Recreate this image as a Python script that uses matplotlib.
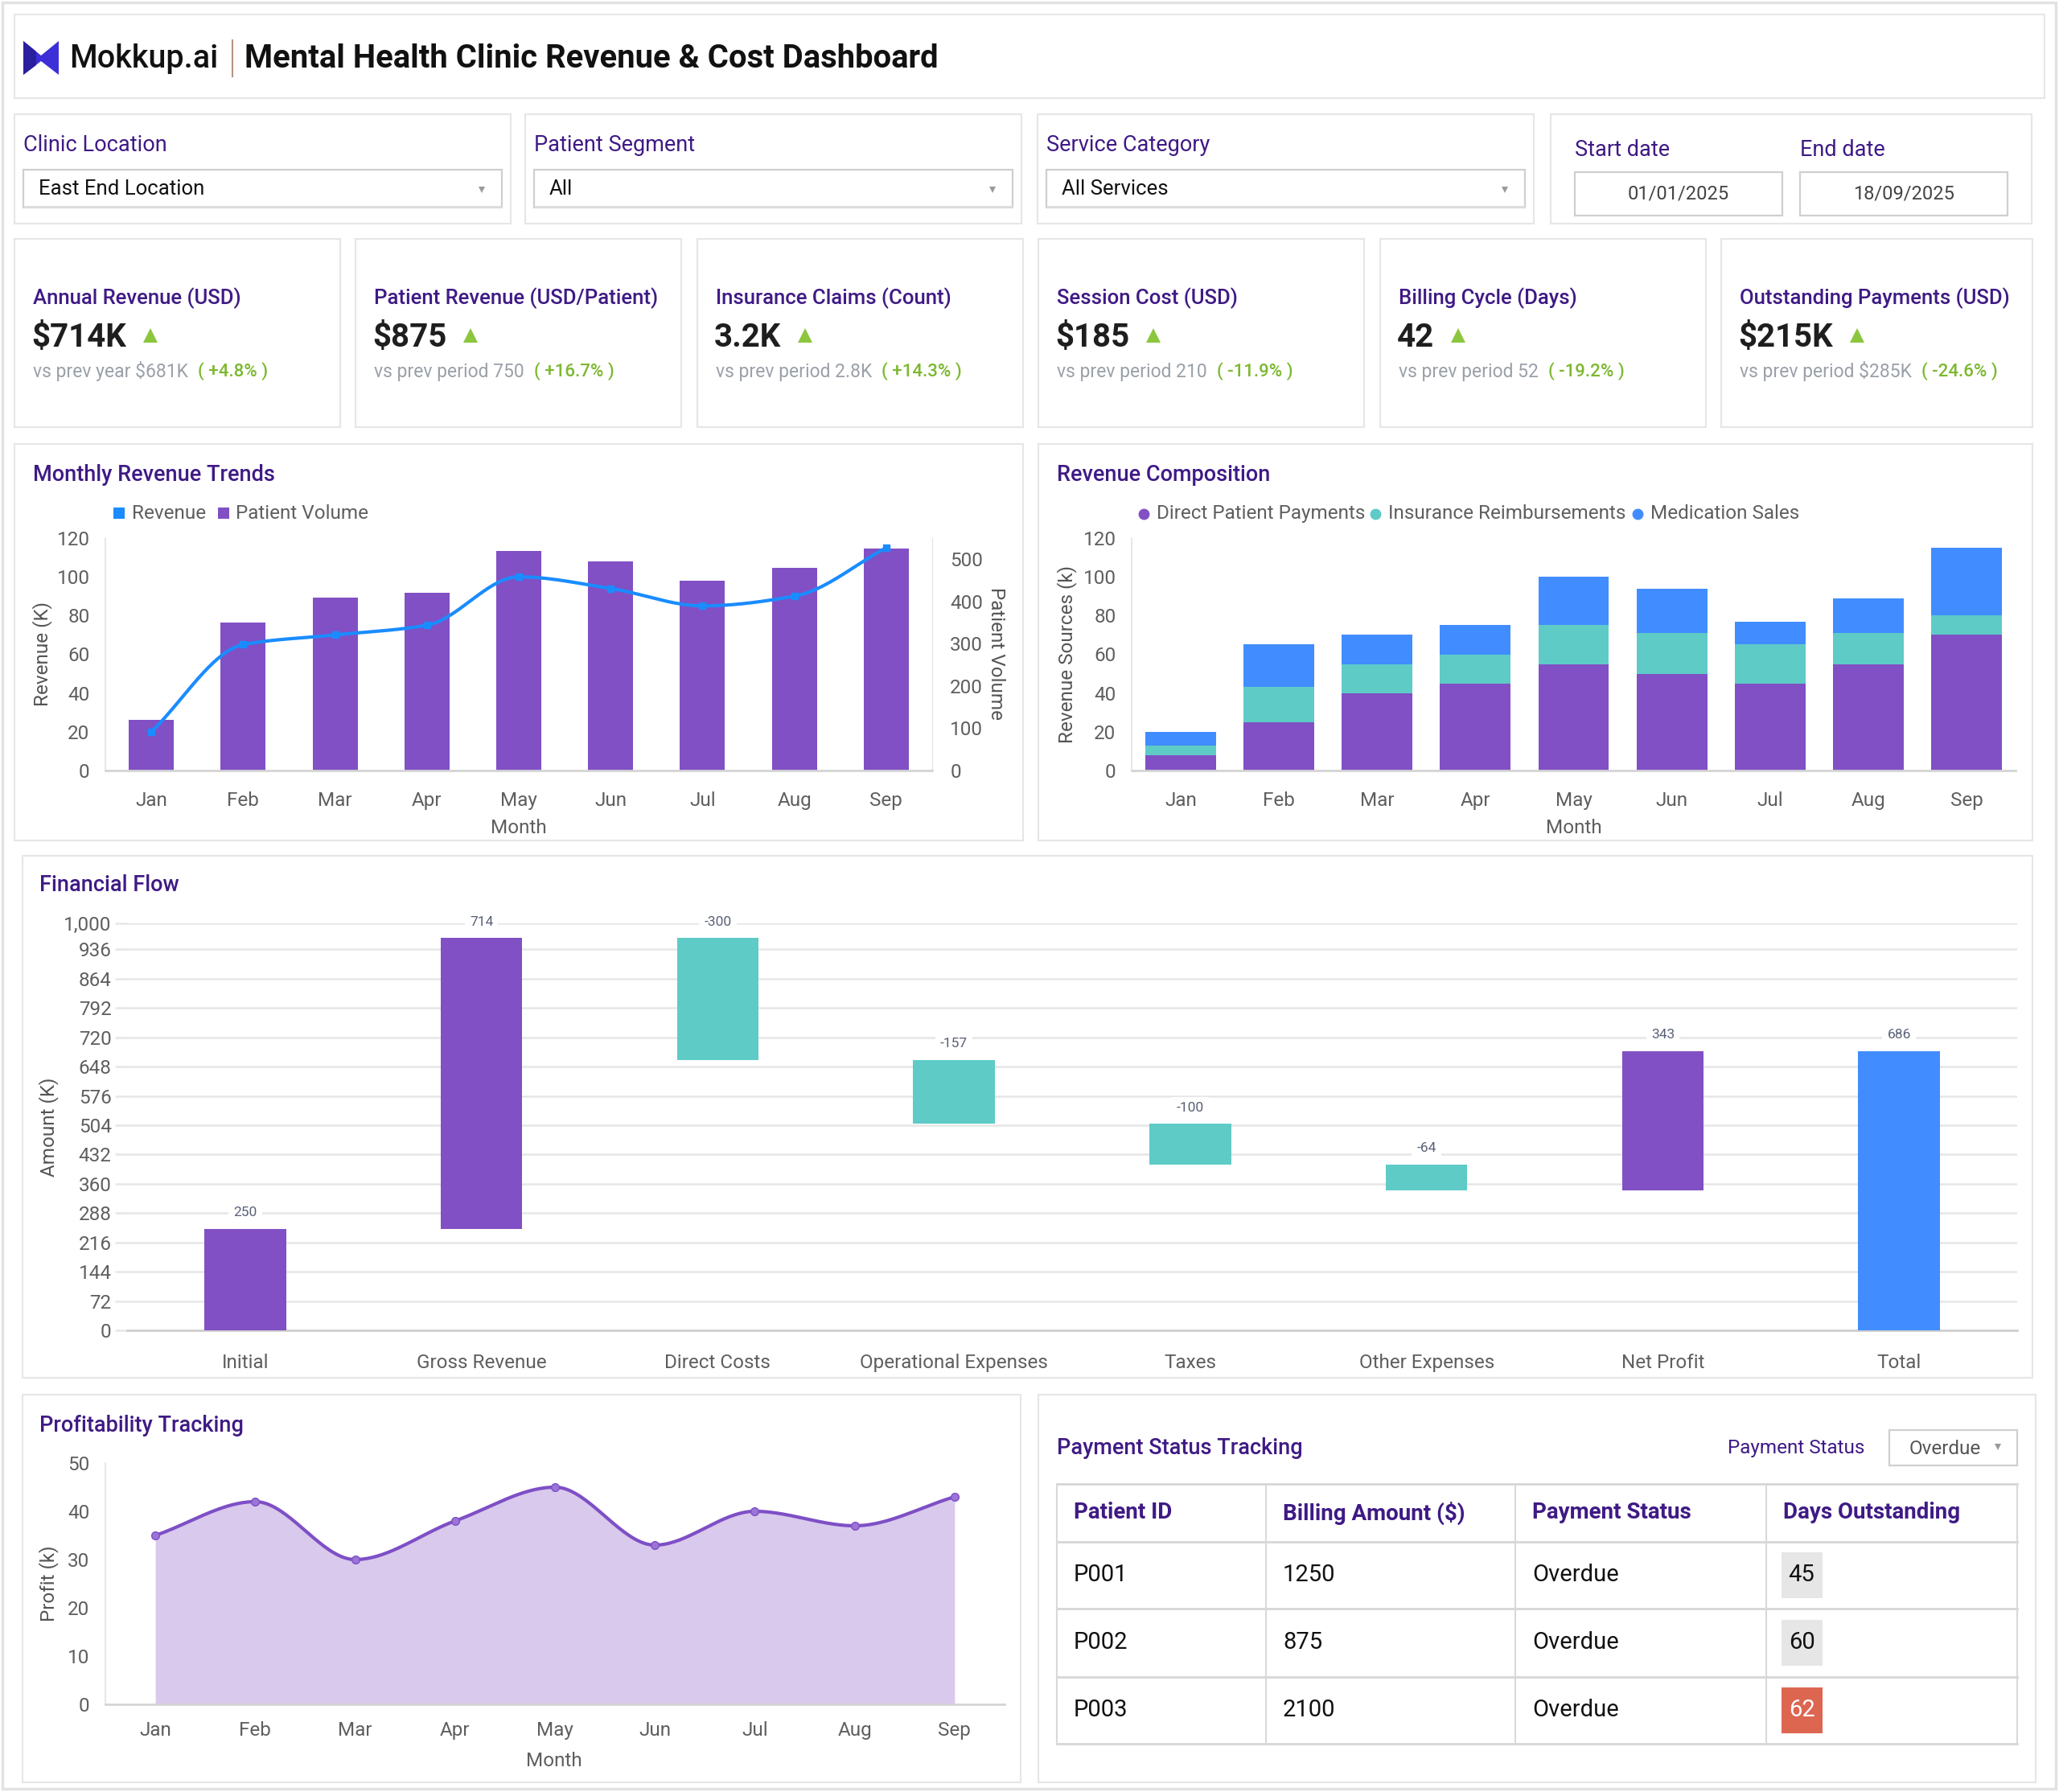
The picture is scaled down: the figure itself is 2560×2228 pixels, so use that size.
import numpy as np
import matplotlib
matplotlib.use('Agg')
import matplotlib.pyplot as plt
from matplotlib.patches import Rectangle, Polygon
from matplotlib.lines import Line2D

# ---- data ----
filter_labels = ['Clinic Location', 'Patient Segment', 'Service Category']
filter_values = ['East End Location', 'All', 'All Services']
start_date = '01/01/2025'
end_date = '18/09/2025'

kpi_titles = ['Annual Revenue (USD)', 'Patient Revenue (USD/Patient)', 'Insurance Claims (Count)',
              'Session Cost (USD)', 'Billing Cycle (Days)', 'Outstanding Payments (USD)']
kpi_values = ['$714K', '$875', '3.2K', '$185', '42', '$215K']
kpi_prev = ['vs prev year $681K', 'vs prev period 750', 'vs prev period 2.8K',
            'vs prev period 210', 'vs prev period 52', 'vs prev period $285K']
kpi_change = ['+4.8%', '+16.7%', '+14.3%', '-11.9%', '-19.2%', '-24.6%']

months = ['Jan', 'Feb', 'Mar', 'Apr', 'May', 'Jun', 'Jul', 'Aug', 'Sep']
revenue_k = [20, 65, 70, 75, 100, 94, 85, 90, 115]
patient_volume = [120, 350, 410, 420, 520, 495, 450, 480, 525]

direct_payments = [8, 25, 40, 45, 55, 50, 45, 55, 70]
insurance_reimb = [5, 18, 15, 15, 20, 21, 20, 16, 10]
medication_sales = [7, 22, 15, 15, 25, 23, 12, 18, 35]

flow_labels = ['Initial', 'Gross Revenue', 'Direct Costs', 'Operational Expenses',
               'Taxes', 'Other Expenses', 'Net Profit', 'Total']
flow_values = [250, 714, -300, -157, -100, -64, 343, 686]
flow_ticks = [0, 72, 144, 216, 288, 360, 432, 504, 576, 648, 720, 792, 864, 936, 1000]

profit_k = [35, 42, 30, 38, 45, 33, 40, 37, 43]

table_cols = ['Patient ID', 'Billing Amount ($)', 'Payment Status', 'Days Outstanding']
patient_ids = ['P001', 'P002', 'P003']
billing_amount = [1250, 875, 2100]
pay_status = ['Overdue', 'Overdue', 'Overdue']
days_out = [45, 60, 62]

# ---- style ----
PURPLE = '#8150c4'
TEAL = '#5ecbc7'
BLUE = '#418dff'
LINE_BLUE = '#1a8cff'
TITLE = '#3f1a85'
GRAY = '#5f5f5f'
AXLAB = '#555555'
GREEN = '#7cb82f'
BORDER = '#e6e6e6'
TICK = 17.5

plt.rcParams['font.family'] = ['Roboto', 'DejaVu Sans']

W, H = 2560, 2228
fig = plt.figure(figsize=(W / 100, H / 100), dpi=100)
fig.patch.set_facecolor('white')


def fx(x):
    return x / W


def fy(y):
    return 1 - y / H


def txt(x, y, s, size, color, weight='normal', ha='left', va='center', **kw):
    return fig.text(fx(x), fy(y), s, fontsize=size, color=color, fontweight=weight,
                    ha=ha, va=va, parse_math=False, **kw)


def box(x0, y0, x1, y1, ec=BORDER, lw=1.5, fc='white', z=-2):
    r = Rectangle((fx(x0), fy(y1)), (x1 - x0) / W, (y1 - y0) / H, transform=fig.transFigure,
                  fc=fc, ec=ec, lw=lw, zorder=z)
    fig.add_artist(r)
    return r


def hline(x0, x1, y, color, lw=1.5, z=1):
    fig.add_artist(Line2D([fx(x0), fx(x1)], [fy(y), fy(y)], transform=fig.transFigure,
                          color=color, lw=lw, zorder=z))


def vline(x, y0, y1, color, lw=1.5, z=1):
    fig.add_artist(Line2D([fx(x), fx(x)], [fy(y0), fy(y1)], transform=fig.transFigure,
                          color=color, lw=lw, zorder=z))


def marker(x, y, m, size, color):
    fig.add_artist(Line2D([fx(x)], [fy(y)], marker=m, markersize=size, color=color,
                          markeredgewidth=0, transform=fig.transFigure, zorder=3))


def axes_px(x0, y0, x1, y1):
    ax = fig.add_axes([fx(x0), fy(y1), (x1 - x0) / W, (y1 - y0) / H])
    ax.patch.set_alpha(0)
    return ax


def smooth(y, n=40):
    # monotone cubic curve through the points (drawing only)
    y = np.asarray(y, float)
    d = np.diff(y)
    m = np.zeros_like(y)
    m[0], m[-1] = d[0], d[-1]
    for i in range(1, len(y) - 1):
        if d[i - 1] * d[i] > 0:
            m[i] = 2 / (1 / d[i - 1] + 1 / d[i])
    xs, ys = [], []
    for i in range(len(y) - 1):
        t = np.linspace(0, 1, n)
        h00 = 2 * t**3 - 3 * t**2 + 1
        h10 = t**3 - 2 * t**2 + t
        h01 = -2 * t**3 + 3 * t**2
        h11 = t**3 - t**2
        xs.append(i + t)
        ys.append(h00 * y[i] + h10 * m[i] + h01 * y[i + 1] + h11 * m[i + 1])
    return np.concatenate(xs), np.concatenate(ys)


def style_axes(ax, xpad=19, ypad=14):
    for s in ['top', 'right']:
        ax.spines[s].set_visible(False)
    ax.spines['left'].set_color('#e3e3e3')
    ax.spines['left'].set_linewidth(1.2)
    ax.spines['bottom'].set_color('#d4d4d4')
    ax.spines['bottom'].set_linewidth(2)
    ax.tick_params(length=0, labelsize=TICK, colors=GRAY)
    ax.tick_params(axis='x', pad=xpad)
    ax.tick_params(axis='y', pad=ypad)


# ---- page frame ----
box(3, 3, 2556, 2224, ec='#e2e2e2', lw=2.5, z=-3)

# ---- header ----
box(18, 18, 2542, 122)
fig.add_artist(Polygon([(fx(29), fy(51)), (fx(51), fy(69)), (fx(73), fy(51)), (fx(73), fy(93)),
                        (fx(51), fy(76)), (fx(29), fy(93))], closed=True,
                       transform=fig.transFigure, fc='#3d2fd8', ec='none', zorder=2))
fig.add_artist(Polygon([(fx(29), fy(51)), (fx(45), fy(64)), (fx(45), fy(81)), (fx(29), fy(93))],
                       closed=True, transform=fig.transFigure, fc='#2a1f9e', ec='none', zorder=2))
txt(86, 73, 'Mokkup.ai', 28.5, '#111111', 'medium')
vline(289, 50, 95, '#b89585', lw=1.5)
txt(304, 73, 'Mental Health Clinic Revenue & Cost Dashboard', 28.8, '#111111', 'bold')

# ---- filters ----
filter_x = [(18, 635), (653, 1270), (1290, 1907)]
for (x0, x1), lab, val in zip(filter_x, filter_labels, filter_values):
    box(x0, 142, x1, 278)
    txt(x0 + 11, 180, lab, 19.5, TITLE)
    box(x0 + 11, 211, x1 - 11, 258, ec='#cfcfcf', lw=1.6, z=-1)
    hline(x0 + 12, x1 - 12, 257, '#dcdcdc', lw=2)
    txt(x0 + 30, 235, val, 18.5, '#111111')
    marker(x1 - 36, 236, 'v', 6, '#9a9a9a')

box(1928, 142, 2526, 278)
txt(1958, 186, 'Start date', 19.5, TITLE)
txt(2238, 186, 'End date', 19.5, TITLE)
for x0, d in [(1958, start_date), (2238, end_date)]:
    box(x0, 214, x0 + 258, 268, ec='#cfcfcf', lw=1.6, z=-1)
    txt(x0 + 129, 241, d, 17, '#444444', ha='center')

# ---- KPI cards ----
fig.canvas.draw()
renderer = fig.canvas.get_renderer()
kpi_x = [(18, 423), (442, 847), (867, 1272), (1291, 1696), (1716, 2121), (2140, 2527)]
for (x0, x1), t, v, p, c in zip(kpi_x, kpi_titles, kpi_values, kpi_prev, kpi_change):
    box(x0, 297, x1, 531)
    txt(x0 + 23, 371, t, 18.5, TITLE, 'medium')
    vt = txt(x0 + 21, 420, v, 29, '#1e1e1e', 'bold')
    bb = vt.get_window_extent(renderer)
    marker(bb.x1 + 30, 417, '^', 13, '#8cc63f')
    pt = txt(x0 + 23, 462, p, 16.5, '#9aa0a8')
    bb = pt.get_window_extent(renderer)
    txt(bb.x1 + 12, 462, '( ' + c + ' )', 16, GREEN, 'medium')

# ---- Monthly Revenue Trends ----
box(18, 552, 1272, 1045)
txt(41, 590, 'Monthly Revenue Trends', 19.5, TITLE, 'medium')
marker(148, 638, 's', 10, LINE_BLUE)
txt(164, 638, 'Revenue', 17.5, GRAY)
marker(278, 638, 's', 10, PURPLE)
txt(293, 638, 'Patient Volume', 17.5, GRAY)

x = np.arange(len(months))
ax = axes_px(131, 669, 1159, 958)
ax2 = ax.twinx()
ax2.bar(x, patient_volume, width=0.49, color=PURPLE, zorder=2)
ax2.set_ylim(0, 550)
ax2.set_yticks([0, 100, 200, 300, 400, 500])
ax2.tick_params(length=0, labelsize=TICK, colors=GRAY, pad=16)
for s in ['top', 'left', 'bottom']:
    ax2.spines[s].set_visible(False)
ax2.spines['right'].set_color('#e3e3e3')
ax.set_zorder(ax2.get_zorder() + 1)
ax.patch.set_visible(False)
sx, sy = smooth(revenue_k)
ax.plot(sx, sy, color=LINE_BLUE, lw=3)
ax.plot(x, revenue_k, 's', color=LINE_BLUE, markersize=6)
ax.set_ylim(0, 120)
ax.set_yticks(range(0, 121, 20))
ax.set_xlim(-0.5, 8.5)
ax.set_xticks(x)
ax.set_xticklabels(months)
style_axes(ax)
txt(645, 1030, 'Month', 17.5, GRAY, ha='center')
txt(53, 813, 'Revenue (K)', 17.5, AXLAB, ha='center', rotation=90)
txt(1238, 813, 'Patient Volume', 17.5, AXLAB, ha='center', rotation=270)

# ---- Revenue Composition ----
box(1291, 552, 2527, 1045)
txt(1314, 590, 'Revenue Composition', 19.5, TITLE, 'medium')
leg = [('Direct Patient Payments', PURPLE, 1422), ('Insurance Reimbursements', TEAL, 1710),
       ('Medication Sales', BLUE, 2036)]
for lab, col, lx in leg:
    marker(lx, 639, 'o', 10, col)
    txt(lx + 16, 638, lab, 17.5, GRAY)

ax = axes_px(1407, 669, 2506, 958)
b1 = np.array(direct_payments)
b2 = b1 + np.array(insurance_reimb)
ax.bar(x, direct_payments, width=0.72, color=PURPLE, zorder=2)
ax.bar(x, insurance_reimb, bottom=b1, width=0.72, color=TEAL, zorder=2)
ax.bar(x, medication_sales, bottom=b2, width=0.72, color=BLUE, zorder=2)
ax.set_ylim(0, 120)
ax.set_yticks(range(0, 121, 20))
ax.set_xlim(-0.5, 8.5)
ax.set_xticks(x)
ax.set_xticklabels(months)
style_axes(ax)
txt(1957, 1030, 'Month', 17.5, GRAY, ha='center')
txt(1327, 813, 'Revenue Sources (k)', 17.5, AXLAB, ha='center', rotation=90)

# ---- Financial Flow (waterfall) ----
box(28, 1064, 2527, 1713)
txt(49, 1101, 'Financial Flow', 19.5, TITLE, 'medium')
ax = axes_px(158, 1148, 2508, 1654)
vals = np.array(flow_values)
running = np.cumsum(vals[:-1])
bottoms = np.append(running - vals[:-1], 0)
heights = vals.copy()
colors = [PURPLE if v > 0 else TEAL for v in vals[:-1]] + [BLUE]
xf = np.arange(len(flow_labels))
ax.bar(xf, heights, bottom=bottoms, width=0.345, color=colors, zorder=3)
for xi, b, h in zip(xf, bottoms, heights):
    top = max(b, b + h)
    ax.annotate(f'{h}', (xi, top), xytext=(0, 14.5), textcoords='offset points', ha='center',
                va='center', fontsize=12.5, color='#5a6078', zorder=4,
                bbox=dict(boxstyle='square,pad=0.35', fc='white', ec='none'))
ax.set_ylim(0, 1000)
ax.set_yticks(flow_ticks)
ax.set_yticklabels([f'{t:,}' for t in flow_ticks])
ax.set_xlim(-0.5, len(flow_labels) - 0.5)
ax.set_xticks(xf)
ax.set_xticklabels(flow_labels)
ax.grid(axis='y', color='#e6e6e6', lw=1.8, zorder=0)
for s in ['top', 'right', 'left']:
    ax.spines[s].set_visible(False)
ax.spines['bottom'].set_color('#cfcfcf')
ax.spines['bottom'].set_linewidth(2)
ax.tick_params(axis='y', length=11, color='#e6e6e6', width=1.8, labelsize=TICK,
               labelcolor=GRAY, pad=3)
ax.tick_params(axis='x', length=0, labelsize=TICK, labelcolor=GRAY, pad=21)
txt(61, 1401, 'Amount (K)', 17.5, AXLAB, ha='center', rotation=90)

# ---- Profitability Tracking ----
box(28, 1734, 1269, 2216)
txt(49, 1772, 'Profitability Tracking', 19.5, TITLE, 'medium')
ax = axes_px(131, 1819, 1249, 2119)
px_, py_ = smooth(profit_k)
ax.fill_between(px_, 0, py_, color='#d9c9ec', lw=0, zorder=1)
ax.plot(px_, py_, color='#7e4fc6', lw=3, zorder=2)
ax.plot(x, profit_k, 'o', color='#7e4fc6', markersize=7, markerfacecolor='#9b74d6', zorder=3)
ax.set_ylim(0, 50)
ax.set_yticks(range(0, 51, 10))
ax.set_xlim(-0.5, 8.5)
ax.set_xticks(x)
ax.set_xticklabels(months)
style_axes(ax, xpad=15, ypad=14)
txt(689, 2190, 'Month', 17.5, GRAY, ha='center')
txt(61, 1969, 'Profit (k)', 17.5, AXLAB, ha='center', rotation=90)

# ---- Payment Status Tracking ----
box(1291, 1734, 2531, 2216)
txt(1314, 1801, 'Payment Status Tracking', 19.5, TITLE, 'medium')
txt(2318, 1801, 'Payment Status', 17.5, TITLE, ha='right')
box(2349, 1778, 2508, 1822, ec='#cfcfcf', lw=1.6, z=-1)
txt(2374, 1801, 'Overdue', 17.5, '#555555')
marker(2484, 1799, 'v', 6, '#9a9a9a')

col_x = [1314, 1574, 1884, 2196, 2508]
row_y = [1845, 1917, 2000, 2085, 2168]
for yy in row_y:
    hline(col_x[0], col_x[-1], yy, '#d6d6d6', lw=2)
for xx in col_x:
    vline(xx, row_y[0], row_y[-1], '#d9d9d9', lw=1.5)
hy = (row_y[0] + row_y[1]) / 2
for c0, name in zip(col_x[:-1], table_cols):
    txt(c0 + 21, hy, name, 20, TITLE, 'bold')
for i in range(len(patient_ids)):
    cy = (row_y[i + 1] + row_y[i + 2]) / 2
    txt(col_x[0] + 21, cy, patient_ids[i], 21, '#111111')
    txt(col_x[1] + 21, cy, str(billing_amount[i]), 21, '#111111')
    txt(col_x[2] + 21, cy, pay_status[i], 21, '#111111')
    red = days_out[i] > 60
    box(col_x[3] + 19, cy - 29, col_x[3] + 70, cy + 28, ec='none', lw=0,
        fc='#dd6651' if red else '#e6e6e6', z=0)
    txt(col_x[3] + 44, cy, str(days_out[i]), 21, 'white' if red else '#111111', ha='center')

fig.savefig('out.png', dpi=100, facecolor='white')
